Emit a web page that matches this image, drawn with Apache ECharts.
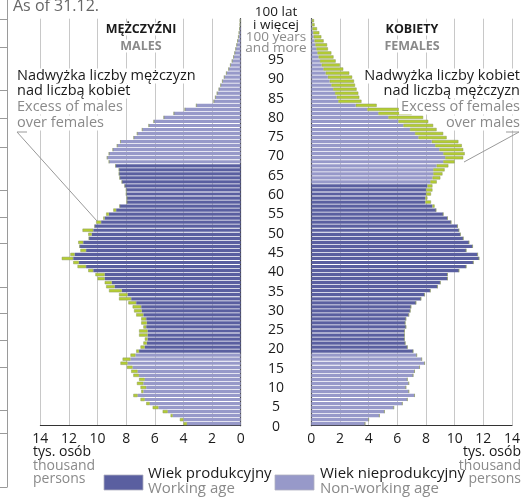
<!DOCTYPE html>
<html>
<head>
<meta charset="utf-8">
<script src="https://cdn.jsdelivr.net/npm/echarts@6/dist/echarts.min.js"></script>
<style>
html, body { margin: 0; padding: 0; background: #fff; }
#chart { width: 524px; height: 497px; }
</style>
</head>
<body>
<div id="chart"></div>
<script>
// wiek 0..99 oraz 100+
const ages = [];
for (let a = 0; a < 100; a++) ages.push(String(a));
ages.push('100+');

// etykiety osi wieku (środkowa kolumna)
const ageLabels = ['0', '5', '10', '15', '20', '25', '30', '35', '40', '45',
	'50', '55', '60', '65', '70', '75', '80', '85', '90', '95'];

// osi X - tys. osób
const xTicks = [0, 2, 4, 6, 8, 10, 12, 14];

// mężczyźni, tys. osób, wiek 0..100+
const males = [
	4.0, 4.25, 4.9, 5.45, 6.15, 6.6, 7.0, 7.5, 6.95, 7.0,
	7.25, 7.1, 7.5, 7.65, 7.95, 8.4, 8.25, 7.7, 7.3, 7.0,
	6.8, 6.7, 7.1, 7.1, 6.8, 6.95, 6.95, 7.3, 7.45, 7.55,
	7.85, 8.5, 8.5, 9.2, 9.4, 9.5, 10.0, 10.15, 10.65, 11.4,
	11.7, 12.5, 11.9, 11.2, 11.25, 11.35, 10.6, 10.65, 11.05, 10.2,
	10.1, 9.6, 9.4, 8.9, 8.45, 7.95, 7.95, 8.0, 8.0, 8.1,
	8.3, 8.45, 8.5, 8.5, 8.74, 9.2, 9.33, 9.2, 8.93, 8.63,
	8.4, 7.47, 7.23, 6.88, 6.42, 6.07, 5.37, 4.67, 3.9, 3.1,
	1.88, 1.77, 1.65, 1.52, 1.4, 1.28, 1.15, 1.0, 0.84, 0.72,
	0.6, 0.5, 0.42, 0.35, 0.28, 0.22, 0.16, 0.12, 0.08, 0.05,
	0.04
];

// kobiety, tys. osób, wiek 0..100+
const females = [
	3.75, 4.0, 4.75, 5.1, 5.75, 6.35, 6.7, 7.2, 6.8, 6.6,
	6.8, 6.7, 7.1, 7.2, 7.55, 7.9, 7.7, 7.35, 7.1, 6.7,
	6.55, 6.5, 6.5, 6.5, 6.6, 6.55, 6.6, 6.8, 6.9, 6.95,
	7.3, 7.65, 7.9, 8.3, 8.8, 9.0, 9.5, 9.5, 10.3, 10.8,
	11.3, 11.7, 11.6, 10.8, 11.25, 11.0, 10.6, 10.4, 10.3, 10.2,
	9.75, 9.5, 9.2, 8.7, 8.6, 8.35, 8.1, 8.35, 8.45, 8.45,
	8.75, 9.0, 9.15, 9.3, 9.56, 10.0, 10.6, 10.7, 10.6, 10.5,
	10.26, 9.44, 9.2, 8.74, 8.5, 8.16, 7.8, 7.0, 6.1, 4.56,
	3.5, 3.35, 3.28, 3.16, 3.05, 2.98, 2.85, 2.65, 2.23, 2.0,
	1.7, 1.55, 1.4, 1.16, 1.1, 0.86, 0.7, 0.56, 0.4, 0.23,
	0.19
];

// wiek produkcyjny: M 18-64, K 18-59
const WORK_FROM = 18, WORK_TO_M = 64, WORK_TO_K = 59;

const WORK = '#5a5fa0';
const NONWORK = '#9799c9';
const EXCESS = '#b4cd32';
const FONT = '"Open Sans", "DejaVu Sans", sans-serif';
const BLACK = '#1a1a1a';
const GRAY = '#8a8a8a';

// część wspólna (min) i nadwyżka
const maleBase = males.map((m, i) => Math.min(m, females[i]));
const maleExcess = males.map((m, i) => Math.max(+(m - females[i]).toFixed(2), 0));
const femaleBase = females.map((f, i) => Math.min(f, males[i]));
const femaleExcess = females.map((f, i) => Math.max(+(f - males[i]).toFixed(2), 0));

function ageColor(lastWorking) {
	return (p) => (p.dataIndex >= WORK_FROM && p.dataIndex <= lastWorking ? WORK : NONWORK);
}

function txt(text, x, y, opts) {
	opts = opts || {};
	return {
		type: 'text',
		x: x,
		y: y,
		z: 100,
		style: {
			text: text,
			fill: opts.color || BLACK,
			font: (opts.bold ? 'bold ' : '') + (opts.size || 14.5) + 'px ' + FONT,
			align: opts.align || 'left',
			verticalAlign: 'middle',
			backgroundColor: opts.bg ? '#fff' : null,
			padding: opts.bg ? [0, 2] : 0,
		},
	};
}

const barCommon = {
	type: 'bar',
	barCategoryGap: '20%',
	animation: false,
};

const xAxisCommon = {
	type: 'value',
	min: 0,
	max: 14,
	interval: 2,
	axisLine: { show: true, onZero: false, lineStyle: { color: '#333', width: 1 } },
	axisTick: { show: false },
	axisLabel: { color: BLACK, fontSize: 14, fontFamily: FONT, margin: 6,
		formatter: (v) => (xTicks.indexOf(v) >= 0 ? String(v) : '') },
	splitLine: { show: true, lineStyle: { color: '#c8c8c8', width: 1 } },
};

const yAxisBars = {
	type: 'category',
	data: ages,
	boundaryGap: true,
	axisLine: { show: true, onZero: false, lineStyle: { color: '#444', width: 1.2 } },
	axisTick: { show: false },
	axisLabel: { show: false },
	splitLine: { show: false },
};

// lewa krawędź - fragment ramki sąsiedniej tabeli
const frameTicks = [19, 47, 90, 118, 147, 190, 217, 243, 287, 313, 340, 367, 410, 433, 487];
const frame = [{
	type: 'line', shape: { x1: 7.5, y1: 0, x2: 7.5, y2: 487 },
	style: { stroke: '#9a9a9a', lineWidth: 1 },
}].concat(frameTicks.map((y) => ({
	type: 'line', shape: { x1: 0, y1: y + 0.5, x2: 7.5, y2: y + 0.5 },
	style: { stroke: '#9a9a9a', lineWidth: 1 },
})));

const option = {
	animation: false,
	backgroundColor: '#fff',
	grid: [
		{ left: 40.3, right: 283.3, top: 18.7, bottom: 71.3 },
		{ left: 311.3, right: 12, top: 18.7, bottom: 71.3 },
		{ left: 276, width: 1, top: 60, bottom: 70.3 },
	],
	xAxis: [
		Object.assign({}, xAxisCommon, { gridIndex: 0, inverse: true }),
		Object.assign({}, xAxisCommon, { gridIndex: 1 }),
		{ gridIndex: 2, type: 'value', show: false },
	],
	yAxis: [
		Object.assign({}, yAxisBars, { gridIndex: 0, position: 'right' }),
		Object.assign({}, yAxisBars, { gridIndex: 1, position: 'left' }),
		{
			gridIndex: 2,
			type: 'category',
			data: ageLabels,
			boundaryGap: false,
			axisLine: { show: false },
			axisTick: { show: false },
			splitLine: { show: false },
			axisLabel: { color: BLACK, fontSize: 14, fontFamily: FONT, align: 'center', margin: 0, interval: 0 },
		},
	],
	series: [
		Object.assign({}, barCommon, {
			name: 'M', xAxisIndex: 0, yAxisIndex: 0, stack: 'm', data: maleBase,
			itemStyle: { color: ageColor(WORK_TO_M) },
		}),
		Object.assign({}, barCommon, {
			name: 'M+', xAxisIndex: 0, yAxisIndex: 0, stack: 'm', data: maleExcess,
			itemStyle: { color: EXCESS, borderColor: '#8f9a60', borderWidth: 0.5 },
		}),
		Object.assign({}, barCommon, {
			name: 'K', xAxisIndex: 1, yAxisIndex: 1, stack: 'k', data: femaleBase,
			itemStyle: { color: ageColor(WORK_TO_K) },
		}),
		Object.assign({}, barCommon, {
			name: 'K+', xAxisIndex: 1, yAxisIndex: 1, stack: 'k', data: femaleExcess,
			itemStyle: { color: EXCESS, borderColor: '#8f9a60', borderWidth: 0.5 },
		}),
	],
	graphic: frame.concat([
		txt('As of 31.12.', 13, 6, { color: '#666', size: 16 }),
		// naglowki
		txt('MĘŻCZYŹNI', 141, 29, { bold: true, size: 12.5, align: 'center', bg: true }),
		txt('MALES', 141, 46, { bold: true, size: 12.5, align: 'center', color: GRAY, bg: true }),
		txt('KOBIETY', 412, 29, { bold: true, size: 12.5, align: 'center', bg: true }),
		txt('FEMALES', 412, 46, { bold: true, size: 12.5, align: 'center', color: GRAY, bg: true }),
		// opisy nadwyzek
		txt('Nadwyżka liczby mężczyzn', 15, 76, { bg: true }),
		txt('nad liczbą kobiet', 15, 91, { bg: true }),
		txt('Excess of males', 15, 107, { color: GRAY, bg: true }),
		txt('over females', 15, 123, { color: GRAY, bg: true }),
		txt('Nadwyżka liczby kobiet', 522, 76, { align: 'right', bg: true }),
		txt('nad liczbą mężczyzn', 522, 91, { align: 'right', bg: true }),
		txt('Excess of females', 522, 107, { align: 'right', color: GRAY, bg: true }),
		txt('over males', 522, 123, { align: 'right', color: GRAY, bg: true }),
		{
			type: 'polyline', z: 100,
			shape: { points: [[27, 132], [17, 132], [97, 221]] },
			style: { stroke: '#999', lineWidth: 1, fill: null },
		},
		{
			type: 'polyline', z: 100,
			shape: { points: [[506, 132], [519, 132], [464, 162]] },
			style: { stroke: '#999', lineWidth: 1, fill: null },
		},
		// gora osi wieku
		txt('100 lat', 276, 12, { size: 13.5, align: 'center' }),
		txt('i więcej', 276, 25, { size: 13.5, align: 'center' }),
		txt('100 years', 276, 37, { size: 13.5, align: 'center', color: GRAY }),
		txt('and more', 276, 48, { size: 13.5, align: 'center', color: GRAY }),
		// jednostki
		txt('tys. osób', 33, 452, { size: 14 }),
		txt('thousand', 33, 466, { size: 14, color: GRAY }),
		txt('persons', 33, 479, { size: 14, color: GRAY }),
		txt('tys. osób', 521, 452, { size: 14, align: 'right' }),
		txt('thousand', 521, 466, { size: 14, align: 'right', color: GRAY }),
		txt('persons', 521, 479, { size: 14, align: 'right', color: GRAY }),
		// legenda
		{ type: 'rect', shape: { x: 104, y: 475, width: 39, height: 15 },
			style: { fill: WORK, stroke: '#b0b0c0', lineWidth: 0.8 } },
		txt('Wiek produkcyjny', 148, 474, { size: 15 }),
		txt('Working age', 148, 489, { size: 15, color: GRAY }),
		{ type: 'rect', shape: { x: 275, y: 475, width: 39, height: 15 },
			style: { fill: NONWORK, stroke: '#b0b0c0', lineWidth: 0.8 } },
		txt('Wiek nieprodukcyjny', 320, 474, { size: 15 }),
		txt('Non-working age', 320, 489, { size: 15, color: GRAY }),
	]),
};

const chart = echarts.init(document.getElementById('chart'));
chart.setOption(option);
</script>
</body>
</html>
